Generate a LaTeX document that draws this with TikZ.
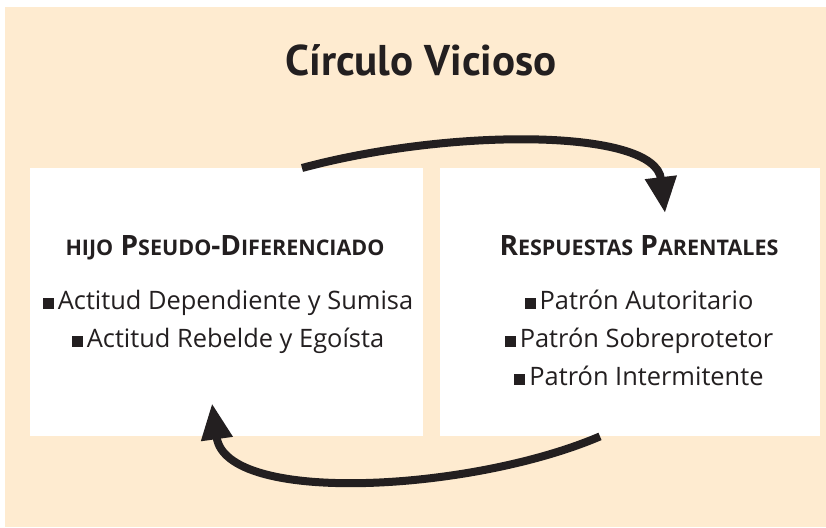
\documentclass[tikz,border=0pt]{standalone}
\usepackage{fontspec}
\setmainfont{Open Sans}
\newfontfamily\titlefont{PT Sans}
\usetikzlibrary{arrows.meta,calc}
\definecolor{peach}{RGB}{254,235,208}
\definecolor{ink}{RGB}{35,31,32}
\newcommand{\bul}{\raisebox{0.5pt}{\rule{11pt}{11pt}}\hspace{4pt}}
\newcommand{\SC}[2]{{\fontsize{28}{30}\selectfont #1}{\fontsize{21.5}{24}\selectfont #2}}
\tikzset{
  panel/.style={fill=white, draw=none, anchor=north west, inner sep=0pt},
  title/.style={font=\titlefont\fontsize{43}{48}\selectfont\bfseries, text=ink, anchor=base, inner sep=0pt},
  head/.style={font=\fontsize{28}{30}\selectfont\bfseries, text=ink, anchor=base, inner sep=0pt},
  item/.style={font=\fontsize{25.4}{28}\selectfont, text=ink, anchor=base, inner sep=0pt},
  loop/.style={draw=ink, line width=8pt, -{Triangle[length=36pt,width=30pt]}}
}
\begin{document}
\begin{tikzpicture}[x=1pt,y=-1pt]
\useasboundingbox (0,0) rectangle (826,527);
\fill[peach] (5,7) rectangle (826,527);
\node[panel, minimum width=393pt, minimum height=268pt] (L) at (30,168) {};
\node[panel, minimum width=380pt, minimum height=268pt] (R) at (440,168) {};
\node[title] (T) at (421,75) {Círculo Vicioso};
\node[head] (LH) at (225,255) {\SC{}{HIJO} \SC{P}{SEUDO}\SC{-D}{IFERENCIADO}};
\node[item] (L1) at (228,309) {\bul Actitud Dependiente y Sumisa};
\node[item] (L2) at (228,347) {\bul Actitud Rebelde y Egoísta};
\node[head] (RH) at (639,255) {\SC{R}{ESPUESTAS} \SC{P}{ARENTALES}};
\node[item] (R1) at (639,309) {\bul Patrón Autoritario};
\node[item] (R2) at (639,347) {\bul Patrón Sobreprotetor};
\node[item] (R3) at (639,385) {\bul Patrón Intermitente};
\coordinate (a1) at ($(L.north west)+(272,0)$);
\coordinate (a2) at ($(R.north west)+(225,45)$);
\coordinate (b1) at ($(R.south west)+(160,0)$);
\coordinate (b2) at ($(L.south west)+(182,-33)$);
\draw[loop] (a1) .. controls (450,128) and (655,128) .. (a2);
\draw[loop] (b1) .. controls (470,492) and (226,505) .. (b2);
\end{tikzpicture}
\end{document}
